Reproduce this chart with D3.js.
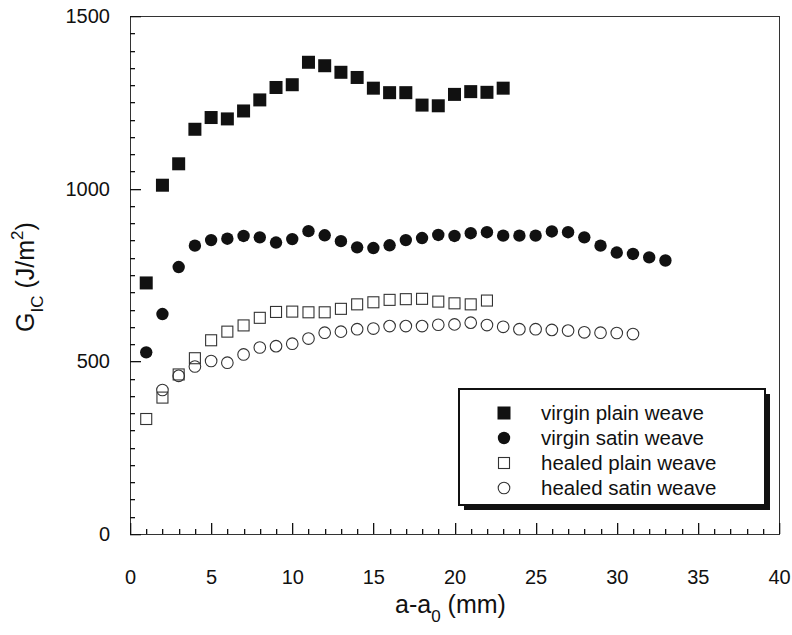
<!DOCTYPE html>
<html>
<head>
<meta charset="utf-8">
<script src="https://cdn.jsdelivr.net/npm/d3@7"></script>
<style>
  html, body { margin: 0; padding: 0; background: #fff; }
  svg { display: block; font-family: "Liberation Sans", Arial, sans-serif; }
</style>
</head>
<body>
<svg id="chart" width="792" height="635"></svg>
<script>
// ---- data ----
const xVirginPlain = [1,2,3,4,5,6,7,8,9,10,11,12,13,14,15,16,17,18,19,20,21,22,23];
const virginPlain  = [727,1010,1072,1172,1206,1202,1225,1257,1293,1301,1366,1356,1337,1322,1291,1278,1278,1242,1240,1273,1281,1279,1291];

const xVirginSatin = [1,2,3,4,5,6,7,8,9,10,11,12,13,14,15,16,17,18,19,20,21,22,23,24,25,26,27,28,29,30,31,32,33];
const virginSatin  = [526,637,773,835,851,855,863,859,844,854,877,865,848,830,828,836,851,857,866,863,871,874,864,864,864,876,874,859,835,815,811,801,792];

const xHealedPlain = [1,2,3,4,5,6,7,8,9,10,11,12,13,14,15,16,17,18,19,20,21,22];
const healedPlain  = [333,395,462,509,561,586,604,626,643,644,642,642,652,665,671,678,680,681,673,668,665,676];

const xHealedSatin = [2,3,4,5,6,7,8,9,10,11,12,13,14,15,16,17,18,19,20,21,22,23,24,25,26,27,28,29,30,31];
const healedSatin  = [417,458,485,501,496,520,540,544,551,566,583,586,593,595,602,602,602,606,607,612,605,600,593,593,591,589,584,583,582,579];

const xTicksMajor = [0,5,10,15,20,25,30,35,40];
const yTicksMajor = [0,500,1000,1500];

const seriesNames = ["virgin plain weave","virgin satin weave","healed plain weave","healed satin weave"];

(function () {
// ---- layout ----
const svg = d3.select("#chart");
const pL = 130, pR = 779, pT = 16, pB = 534;
const x = d3.scaleLinear().domain([0, 40]).range([pL, pR]);
const y = d3.scaleLinear().domain([0, 1500]).range([pB, pT]);
const ink = "#111";

// frame
svg.append("rect")
  .attr("x", pL + 0.5).attr("y", pT + 0.5)
  .attr("width", pR - pL).attr("height", pB - pT)
  .attr("fill", "none").attr("stroke", "#333").attr("stroke-width", 1);

// inward tick marks (minor every 1 mm / 50 J/m2, major every 5 mm / 500 J/m2)
const xMinor = d3.range(0, 41, 1);
const yMinor = d3.range(0, 1501, 50);
const tk = svg.append("g").attr("class", "tickmarks");
tk.selectAll("rect.xt").data(xMinor).enter().append("rect")
  .attr("class", "xt")
  .attr("x", d => Math.round(x(d)))
  .attr("y", d => pB - (d % 5 === 0 ? 11 : 5))
  .attr("width", 1.3)
  .attr("height", d => (d % 5 === 0 ? 11 : 5))
  .attr("fill", ink);
tk.selectAll("rect.yt").data(yMinor).enter().append("rect")
  .attr("class", "yt")
  .attr("x", pL)
  .attr("y", d => Math.round(y(d)))
  .attr("width", d => (d % 500 === 0 ? 11 : 5))
  .attr("height", 1.3)
  .attr("fill", ink);

// axis labels via d3 axes
svg.append("g").attr("transform", `translate(0,${pB})`)
  .call(d3.axisBottom(x).tickValues(xTicksMajor).tickSize(0).tickPadding(36).tickFormat(d3.format("d")))
  .call(g => {
    g.select(".domain").remove();
    g.selectAll("text").attr("font-size", 20).attr("fill", ink)
      .attr("font-family", "'Liberation Sans', Arial, sans-serif");
  });
svg.append("g").attr("transform", `translate(${pL},0)`)
  .call(d3.axisLeft(y).tickValues(yTicksMajor).tickSize(0).tickPadding(20).tickFormat(d3.format("d")))
  .call(g => {
    g.select(".domain").remove();
    g.selectAll("text").attr("font-size", 20).attr("fill", ink)
      .attr("font-family", "'Liberation Sans', Arial, sans-serif");
  });

// axis titles
const xt = svg.append("text")
  .attr("x", (pL + pR) / 2 - 4).attr("y", 613)
  .attr("text-anchor", "middle").attr("font-size", 25).attr("fill", ink);
xt.append("tspan").text("a-a");
xt.append("tspan").attr("font-size", 17).attr("dy", 9).text("0");
xt.append("tspan").attr("dy", -9).text(" (mm)");

const yt = svg.append("text")
  .attr("transform", `translate(34,${(pT + pB) / 2 + 2}) rotate(-90)`)
  .attr("text-anchor", "middle").attr("font-size", 25).attr("fill", ink);
yt.append("tspan").text("G");
yt.append("tspan").attr("font-size", 17).attr("dy", 9).text("IC");
yt.append("tspan").attr("dy", -9).text(" (J/m");
yt.append("tspan").attr("font-size", 17).attr("dy", -11).text("2");
yt.append("tspan").attr("dy", 11).text(")");

// ---- markers ----
const plot = svg.append("g");
function zip(xs, ys) { return xs.map((v, i) => ({ x: v, y: ys[i] })); }

plot.selectAll("rect.vp").data(zip(xVirginPlain, virginPlain)).enter().append("rect")
  .attr("class", "vp")
  .attr("x", d => x(d.x) - 6.5).attr("y", d => y(d.y) - 6.5)
  .attr("width", 13).attr("height", 13).attr("fill", ink);

plot.selectAll("circle.vs").data(zip(xVirginSatin, virginSatin)).enter().append("circle")
  .attr("class", "vs")
  .attr("cx", d => x(d.x)).attr("cy", d => y(d.y)).attr("r", 6.2).attr("fill", ink);

plot.selectAll("rect.hp").data(zip(xHealedPlain, healedPlain)).enter().append("rect")
  .attr("class", "hp")
  .attr("x", d => x(d.x) - 5.5).attr("y", d => y(d.y) - 5.5)
  .attr("width", 11).attr("height", 11)
  .attr("fill", "none").attr("stroke", "#333").attr("stroke-width", 1.1);

plot.selectAll("circle.hs").data(zip(xHealedSatin, healedSatin)).enter().append("circle")
  .attr("class", "hs")
  .attr("cx", d => x(d.x)).attr("cy", d => y(d.y)).attr("r", 5.8)
  .attr("fill", "none").attr("stroke", "#333").attr("stroke-width", 1.1);

// ---- legend ----
const lg = svg.append("g");
const lx = 459, ly = 389, lw = 306, lh = 116;
lg.append("rect").attr("x", lx + 5).attr("y", ly + 5).attr("width", lw).attr("height", lh).attr("fill", ink);
lg.append("rect").attr("x", lx).attr("y", ly).attr("width", lw).attr("height", lh)
  .attr("fill", "#fff").attr("stroke", ink).attr("stroke-width", 2);

const rowY = i => ly + 24 + i * 25;
const mx = 504;
lg.append("rect").attr("x", mx - 6.5).attr("y", rowY(0) - 6.5).attr("width", 13).attr("height", 13).attr("fill", ink);
lg.append("circle").attr("cx", mx).attr("cy", rowY(1)).attr("r", 6.2).attr("fill", ink);
lg.append("rect").attr("x", mx - 5.5).attr("y", rowY(2) - 5.5).attr("width", 11).attr("height", 11)
  .attr("fill", "none").attr("stroke", "#333").attr("stroke-width", 1.1);
lg.append("circle").attr("cx", mx).attr("cy", rowY(3)).attr("r", 5.8)
  .attr("fill", "none").attr("stroke", "#333").attr("stroke-width", 1.1);

lg.selectAll("text.lab").data(seriesNames).enter().append("text")
  .attr("class", "lab")
  .attr("x", 541).attr("y", (d, i) => rowY(i) + 7)
  .attr("font-size", 20.5).attr("fill", ink).text(d => d);
})();
</script>
</body>
</html>
